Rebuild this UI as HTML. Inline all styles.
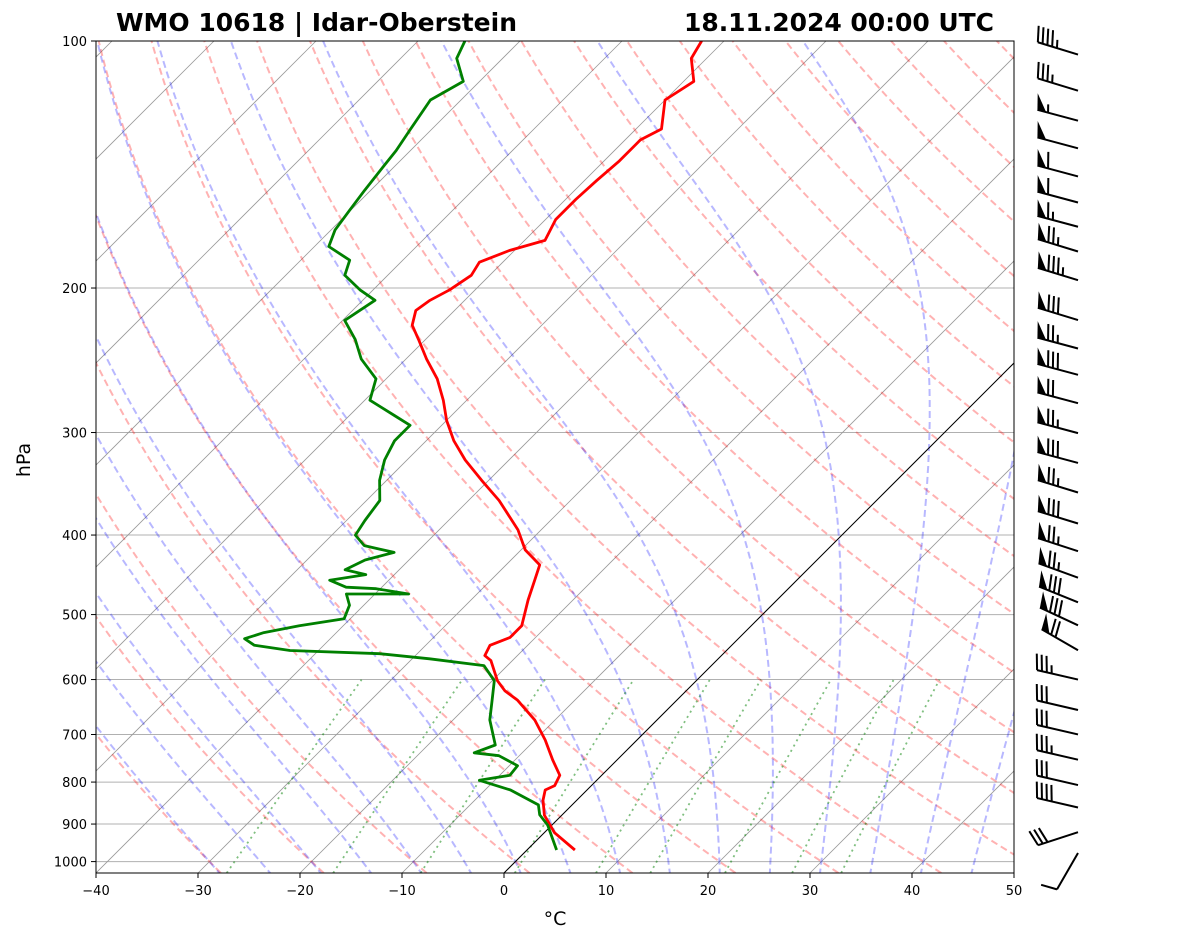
<!DOCTYPE html>
<html><head><meta charset="utf-8">
<style>
body{margin:0;background:#fff;width:1181px;height:941px;overflow:hidden;font-family:"Liberation Sans","DejaVu Sans",sans-serif;}
svg text{font-family:"DejaVu Sans","Liberation Sans",sans-serif;}
</style></head>
<body>
<svg id="chart" width="1181" height="941" xmlns="http://www.w3.org/2000/svg">
<defs><clipPath id="clip"><rect x="96" y="41" width="918" height="832"/></clipPath></defs>
<rect width="1181" height="941" fill="#fff"/>
<g id="bg" clip-path="url(#clip)"></g>
<g id="prof" clip-path="url(#clip)"></g>
<rect x="96" y="41" width="918" height="832" fill="none" stroke="#000" stroke-width="1"/>
<g id="axes"></g>
<g id="barbs"></g>
<text x="116" y="31" font-size="25" font-weight="bold" textLength="401">WMO 10618 | Idar-Oberstein</text>
<text x="684" y="31" font-size="25" font-weight="bold" textLength="310">18.11.2024 00:00 UTC</text>
<text x="555" y="925" font-size="19" text-anchor="middle">°C</text>
<text x="0" y="0" font-size="19" text-anchor="middle" transform="translate(30,460) rotate(-90)">hPa</text>
</svg>
<script>
// ---- data ----
const tempPressure=[968,922,878,842,818,808,785,752,711,672,636,619,602,569,561,545,533,516,480,454,435,417,394,363,343,324,307,290,274,258,244,231,222,213,207,201,193,186,180,175,165,156,148,140,132,128,118,112,105,100];
const tempValues=[4.7,1.0,-1.7,-3.3,-4.1,-3.6,-4.1,-6.3,-9.0,-12.0,-15.6,-17.8,-19.5,-22.1,-23.2,-23.7,-22.5,-22.5,-24.4,-25.7,-26.7,-29.6,-32.3,-37.0,-40.7,-44.3,-47.3,-50,-52.3,-55,-58,-60.7,-62.7,-63.8,-63.4,-62.5,-61.8,-62.3,-60.5,-58,-59,-59,-58.8,-58.5,-58.5,-57.5,-60,-59,-61.5,-62.2];
const dewPressure=[968,903,877,853,818,796,785,764,743,737,721,672,636,602,577,566,558,553,545,535,526,516,506,487,472,472,465,463,454,447,441,429,420,412,400,384,363,343,324,307,294,286,274,258,244,231,219,207,201,193,185,178,170,161,152,142,136,128,118,112,105,100];
const dewValues=[2.9,-0.4,-2.2,-3.3,-7.5,-11.5,-9.0,-9.2,-12,-14.7,-13.4,-16.4,-18.1,-19.8,-22.3,-28.3,-33.7,-42.8,-46.8,-48.4,-47.1,-44.3,-40.6,-41.4,-42.8,-36.7,-40.4,-43.5,-45.8,-42.8,-45.3,-44.3,-42.2,-45.8,-47.7,-48.2,-48.7,-50.7,-52.2,-53.1,-53.1,-55.6,-59.5,-61,-64.4,-66.9,-69.8,-68.8,-71.3,-74.2,-75.2,-78.6,-79.6,-80.1,-80.6,-81.1,-81.4,-82.1,-83,-81.6,-84.5,-85.4];
const barbPressure=[103,114,124,134,145,156,167,179,194,217,235,253,274,298,324,352,384,415,447,479,511,548,595,648,694,745,800,852,913,968];
const barbSpeed=[45,35,55,50,60,60,65,75,85,80,75,80,70,75,80,75,80,75,75,80,80,70,35,30,30,35,30,40,30,10];
const barbDir=[287,287,285,285,285,285,285,287,287,287,285,285,285,285,285,287,287,288,290,292,295,300,283,283,283,283,283,283,252,210];
const xTicks=[-40,-30,-20,-10,0,10,20,30,40,50];
const yTicks=[100,200,300,400,500,600,700,800,900,1000];
const mixRatios=[0.0004,0.001,0.002,0.004,0.007,0.01,0.016,0.024,0.032];
// ---- axes ----
const X0=96,X1=1014,Y0=41,Y1=873,PX=10.2,DEC=820.6,PBOT=100*Math.pow(10,(Y1-Y0)/DEC);
function yOf(p){return Y0+DEC*Math.log10(p/100);}
function xOf(t,p){const y=yOf(p);return X0+(t+40)*PX+(Y1-y);}
const NS="http://www.w3.org/2000/svg";
function mk(tag,attrs,parent){const e=document.createElementNS(NS,tag);for(const k in attrs)e.setAttribute(k,attrs[k]);parent.appendChild(e);return e;}
const bg=document.getElementById('bg'),prof=document.getElementById('prof'),axes=document.getElementById('axes'),barbs=document.getElementById('barbs');
function pts(ps,ts){return ps.map((p,i)=>xOf(ts[i],p).toFixed(1)+','+yOf(p).toFixed(1)).join(' ');}
function pRange(top,bot,n){const a=[];for(let i=0;i<=n;i++)a.push(Math.exp(Math.log(bot)+(Math.log(top)-Math.log(bot))*i/n));return a;}
yTicks.forEach(p=>{const l=mk('line',{x1:X0,x2:X1,y1:yOf(p),y2:yOf(p),stroke:'#b0b0b0','stroke-width':1},bg);

});
for(let t=-130;t<=50;t+=10){const l=mk('line',{x1:xOf(t,PBOT),y1:Y1,x2:xOf(t,100),y2:Y0,stroke:'#999','stroke-width':0.8},bg);

}
const PP=pRange(100,PBOT,60);
for(let t0=-30;t0<=200;t0+=10){const ts=PP.map(p=>(t0+273.15)*Math.pow(p/1000,0.2857)-273.15);
const l=mk('polyline',{points:pts(PP,ts),fill:'none',stroke:'rgba(255,0,0,0.3)','stroke-width':2,'stroke-dasharray':'7,4'},bg);

}
function dTdp(p,T){const Tc=T-273.15,es=6.112*Math.exp(17.67*Tc/(Tc+243.5)),rs=0.622*es/(p-es),Rd=287,Lv=2.501e6,cp=1005;
return (Rd*T+Lv*rs)/(cp+Lv*Lv*rs*0.622/(Rd*T*T))/p;}
function moist(t0){const up=[],ps1=[];let T=t0+273.15,p=1000;ps1.push(p);up.push(T-273.15);
while(p>100){const dp=-5;const k1=dTdp(p,T),k2=dTdp(p+dp/2,T+k1*dp/2);T+=k2*dp;p+=dp;ps1.push(p);up.push(T-273.15);}
T=t0+273.15;p=1000;const ps2=[],dn=[];while(p<PBOT+5){const dp=5;const k1=dTdp(p,T),k2=dTdp(p+dp/2,T+k1*dp/2);T+=k2*dp;p+=dp;ps2.unshift(p);dn.unshift(T-273.15);}
return [ps2.concat(ps1),dn.concat(up)];}
for(let t0=-30;t0<=45;t0+=5){const r=moist(t0);
const l=mk('polyline',{points:pts(r[0],r[1]),fill:'none',stroke:'rgba(0,0,255,0.28)','stroke-width':2,'stroke-dasharray':'7,4'},bg);

}
const MP=pRange(600,PBOT,20);
mixRatios.forEach(w=>{const ts=MP.map(p=>{const e=p*w/(0.622+w),a=Math.log(e/6.112);return 243.5*a/(17.67-a);});
const l=mk('polyline',{points:pts(MP,ts),fill:'none',stroke:'rgba(0,128,0,0.5)','stroke-width':1.8,'stroke-dasharray':'2,4'},bg);

});
const z=mk('line',{x1:xOf(0,PBOT),y1:Y1,x2:xOf(0,100),y2:Y0,stroke:'#000','stroke-width':1},bg);


const tl=mk('polyline',{points:pts(tempPressure,tempValues),fill:'none',stroke:'#f00','stroke-width':2.8,'stroke-linejoin':'round'},prof);


const dl=mk('polyline',{points:pts(dewPressure,dewValues),fill:'none',stroke:'#008000','stroke-width':2.8,'stroke-linejoin':'round'},prof);


xTicks.forEach(t=>{const x=X0+(t+40)*PX;mk('line',{x1:x,x2:x,y1:Y1,y2:Y1+5,stroke:'#000'},axes);
const tx=mk('text',{x:x,y:Y1+22,'font-size':13,'text-anchor':'middle'},axes);tx.textContent=(t<0?'\u2212'+(-t):t);

});
yTicks.forEach(p=>{const y=yOf(p);mk('line',{x1:X0-5,x2:X0,y1:y,y2:y,stroke:'#000'},axes);
const tx=mk('text',{x:X0-9,y:y+5,'font-size':13,'text-anchor':'end'},axes);tx.textContent=p;

});
const BX=1078,L=42;
barbPressure.forEach((p,i)=>{const g=mk('g',{},barbs);


const d=barbDir[i]*Math.PI/180,ux=Math.sin(d),uy=-Math.cos(d);const fx=-uy,fy=ux;
const bx=BX,by=yOf(p)+3;const tx=bx+ux*L,ty=by+uy*L;
mk('line',{x1:bx,y1:by,x2:tx,y2:ty,stroke:'#000','stroke-width':2},g);
let s=barbSpeed[i],pos=0;const F=16,step=5;
const vx=fx*F+ux*4,vy=fy*F+uy*4;
while(s>=50){const ax=tx-ux*pos,ay=ty-uy*pos,cx=tx-ux*(pos+9),cy=ty-uy*(pos+9);
mk('polygon',{points:`${ax},${ay} ${ax+vx},${ay+vy} ${cx},${cy}`,fill:'#000'},g);pos+=11;s-=50;}
if(pos===0&&s<10&&s>=5)pos=step;
while(s>=10){const ax=tx-ux*pos,ay=ty-uy*pos;mk('line',{x1:ax,y1:ay,x2:ax+vx,y2:ay+vy,stroke:'#000','stroke-width':2},g);pos+=step;s-=10;}
if(s>=5){const ax=tx-ux*pos,ay=ty-uy*pos;mk('line',{x1:ax,y1:ay,x2:ax+vx/2,y2:ay+vy/2,stroke:'#000','stroke-width':2},g);}
});
</script>
</body></html>
